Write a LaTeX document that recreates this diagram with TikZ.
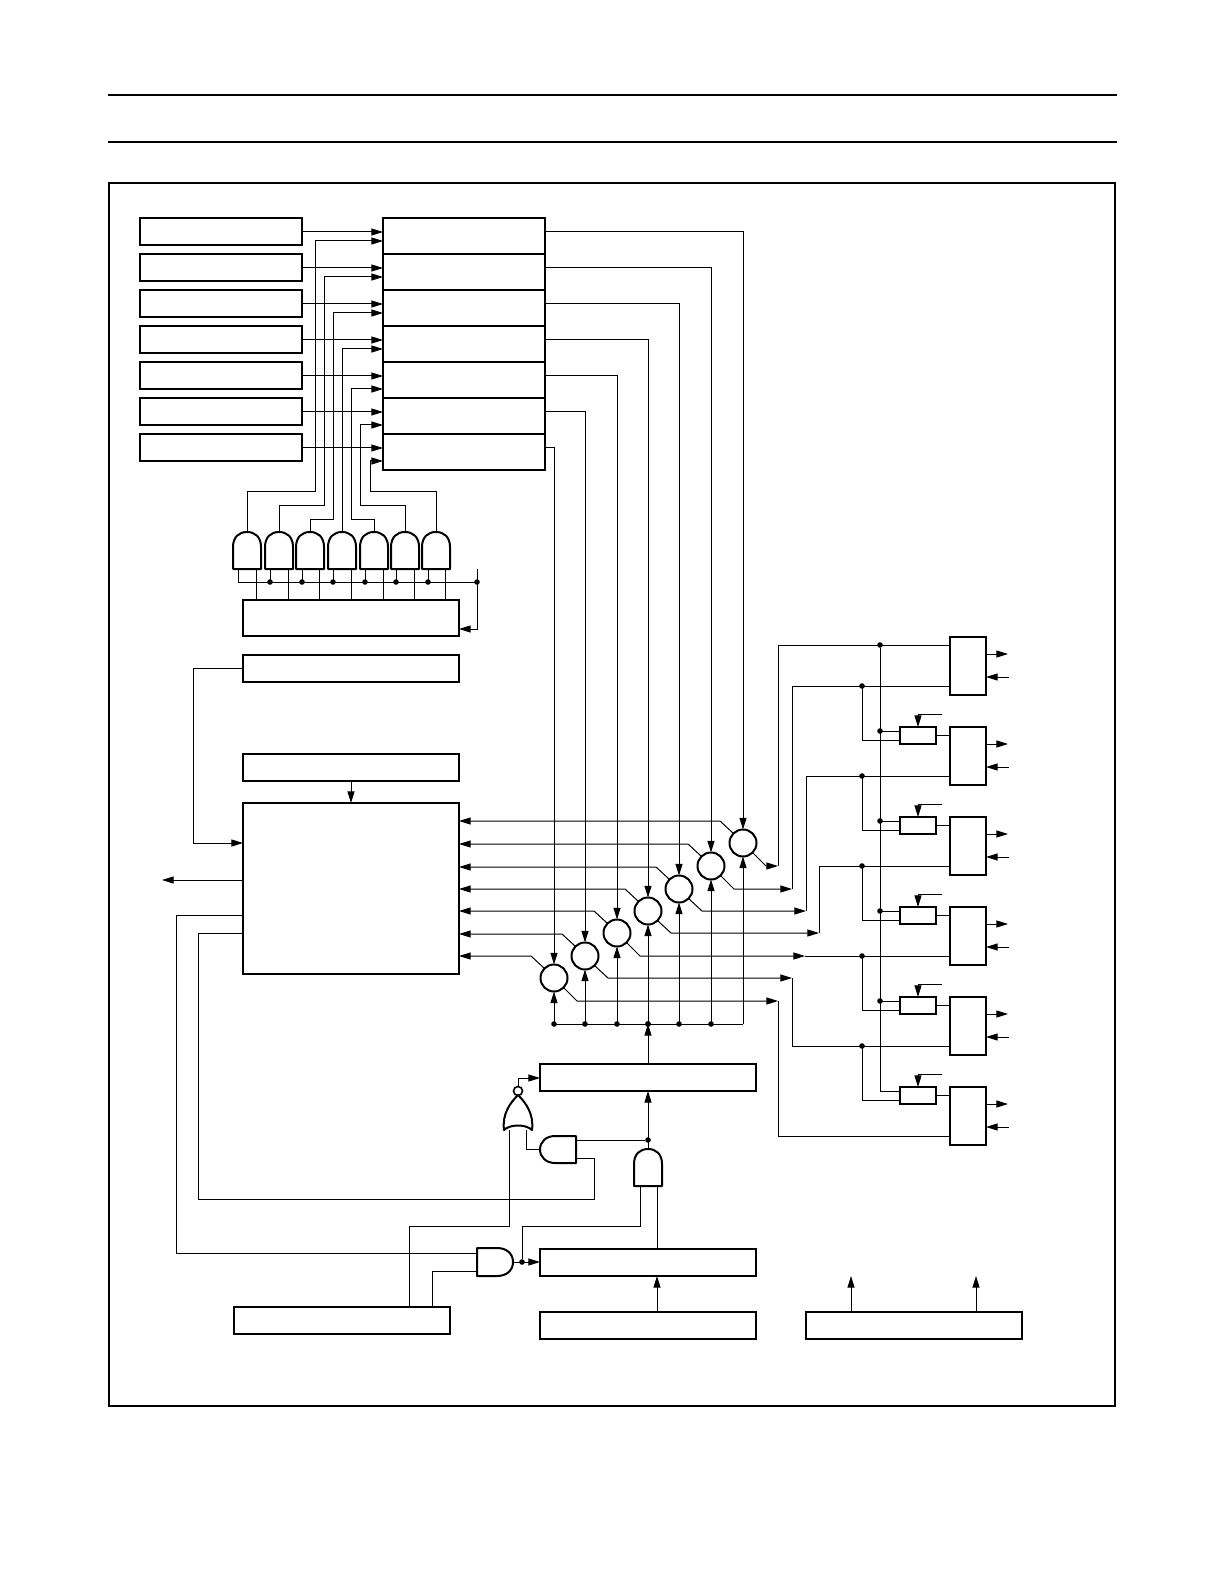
\documentclass[tikz,border=0pt]{standalone}
\usetikzlibrary{arrows.meta,calc}
\tikzset{
  wire/.style={line width=0.5pt,line join=miter},
  arr/.style={wire,-{Triangle[length=5.8pt,width=3.5pt]}},
  heavy/.style={line width=1pt,line join=miter},
  blockst/.style={draw,line width=1pt,inner sep=0pt,outer sep=0pt},
  mixer/.style={draw,circle,line width=1pt,minimum size=13.5pt,inner sep=0pt,outer sep=0pt},
  bubble/.style={draw,circle,line width=0.8pt,minimum size=4.5pt,inner sep=0pt,outer sep=0pt},
  junction/.style={circle,fill=black,minimum size=2.8pt,inner sep=0pt,outer sep=0pt},
  gatest/.style={line width=1pt,line join=round}
}
\newcommand{\mybox}[5]{\node[blockst,minimum width={(#4-#2)*0.5pt},minimum height={(#5-#3)*0.5pt}] (#1) at ({(#2+#4)/2},{(#3+#5)/2}) {};}
\newcommand{\andup}[4]{%
  \draw[gatest] ({#2-14},#4) -- ({#2-14},{#3+15}) .. controls ({#2-14},{#3+5}) and ({#2-8},#3) .. (#2,#3)
    .. controls ({#2+8},#3) and ({#2+14},{#3+5}) .. ({#2+14},{#3+15}) -- ({#2+14},#4) -- cycle;
  \coordinate (#1) at (#2,#3);}
\begin{document}
\begin{tikzpicture}[x=0.5pt,y=-0.5pt]
\useasboundingbox (0,0) rectangle (1224,1582);
\fill[white] (0,0) rectangle (1224,1582);
% page rules and frame
\draw[heavy] (108,95) -- (1117,95);
\draw[heavy] (108,142) -- (1117,142);
\draw[heavy] (109,183) rectangle (1115,1406);

% input boxes and registers
\foreach \i in {1,...,7}{
  \pgfmathsetmacro{\ya}{218.5+36*(\i-1)}
  \pgfmathsetmacro{\yb}{245.5+36*(\i-1)}
  \pgfmathsetmacro{\yc}{218+36*(\i-1)}
  \pgfmathsetmacro{\yd}{254+36*(\i-1)}
  \mybox{L\i}{140}{\ya}{302}{\yb}
  \mybox{R\i}{383}{\yc}{545}{\yd}
  \draw[arr] (L\i.east) -- (L\i.east -| R\i.west);
}
\foreach \i/\y in {1/241,2/277,3/313,4/349,5/389,6/425,7/461}{
  \coordinate (Rb\i) at (383,\y);
}

% and gates row
\foreach \i/\cx in {1/247,2/279,3/310,4/342,5/374,6/405,7/436}{
  \andup{G\i}{\cx}{532}{569}
}
\mybox{Sh}{243}{600}{459}{636}
\foreach \cx in {247,279,310,342,374,405,436}{
  \coordinate (top\cx) at ({\cx+9},569);
  \draw[wire] (top\cx) -- (top\cx |- Sh.north);
}
\draw[wire] (238,569) |- (477,582);
\draw[arr] (477,569) |- ($(Sh.east)+(0,11)$);
\foreach \i/\cx in {1/270,2/302,3/333,4/365,5/396,6/428}{
  \draw[wire] (\cx,569) -- (\cx,582);
  \node[junction] (dg\i) at (\cx,582) {};
}
\node[junction] (dg7) at (477,582) {};
\draw[arr] (G1) |- (315,492) |- (Rb1);
\draw[arr] (G2) |- (324,506) |- (Rb2);
\draw[arr] (G3) |- (333,520) |- (Rb3);
\draw[arr] (G4) |- (Rb4);
\draw[arr] (G5) |- (351,520) |- (Rb5);
\draw[arr] (G6) |- (360,506) |- (Rb6);
\draw[arr] (G7) |- (370,492) |- (Rb7);

% middle left boxes
\mybox{Ba}{243}{655}{459}{682}
\mybox{Bb}{243}{754}{459}{781}
\mybox{Big}{243}{803}{459}{974}
\draw[arr] (Bb.south) -- (Big.north);
\coordinate (bigin) at (243,843);
\draw[arr] (Ba.west) -| (193,843) -- (bigin);
\coordinate (bigout) at (243,880);
\coordinate (ext) at (162,880);
\draw[arr] (bigout) -- (ext);

% mixers
\foreach \i/\cx/\cy in {1/743/843,2/711/866,3/679/889,4/648/911,5/617/933,6/585/956,7/554/978}{
  \node[mixer] (C\i) at (\cx,\cy) {};
  \coordinate (w\i) at ({\cx-23},{\cy-22});
  \draw[arr] (C\i.135) -- (w\i) -- (w\i -| Big.east);
  \draw[arr] (R\i.east |- L\i.east) -| (C\i.north);
  \coordinate (bus\i) at (\cx,1024);
  \draw[arr] (bus\i) -- (C\i.south);
}
\draw[wire] (bus7) -- (bus1);
\foreach \i in {2,...,7}{\node[junction] (db\i) at (bus\i) {};}

% ports
\foreach \k in {1,...,6}{
  \pgfmathsetmacro{\ya}{637+90*(\k-1)}
  \pgfmathsetmacro{\yb}{695+90*(\k-1)}
  \pgfmathsetmacro{\yo}{654+90*(\k-1)}
  \pgfmathsetmacro{\yi}{677+90*(\k-1)}
  \pgfmathsetmacro{\ylow}{686+90*(\k-1)}
  \mybox{P\k}{950}{\ya}{986}{\yb}
  \coordinate (Po\k) at (1008,\yo);
  \coordinate (Pi\k) at (1009,\yi);
  \coordinate (Pl\k) at (950,\ylow);
  \draw[arr] (Po\k -| P\k.east) -- (Po\k);
  \draw[arr] (Pi\k) -- (Pi\k -| P\k.east);
}
\foreach \k in {1,...,5}{
  \node[junction] (dl\k) at (862,{686+90*(\k-1)}) {};
}
\coordinate (Pu1) at (950,645);
\node[junction] (du0) at (880,645) {};

% mixer outputs to ports
\foreach \i/\cx/\oy/\tx in {1/743/866/778,2/711/889/792,3/679/911/806,4/648/933/819,5/617/956/805,6/585/978/792,7/554/1001/778}{
  \coordinate (o\i) at ({\cx+23},\oy);
  \coordinate (t\i) at (\tx,\oy);
  \draw[arr] (C\i.-45) -- (o\i) -- (t\i);
}
\draw[wire] (t1) |- (Pu1);
\draw[wire] (t2) |- (Pl1);
\draw[wire] (t3) |- (Pl2);
\draw[wire] (t4) |- (Pl3);
\draw[wire] (t5) -- (Pl4);
\draw[wire] (t6) |- (Pl5);
\draw[wire] (t7) |- (Pl6);

% small blocks in front of ports
\foreach \k/\p in {1/2,2/3,3/4,4/5,5/6}{
  \pgfmathsetmacro{\ya}{727+90*(\k-1)}
  \pgfmathsetmacro{\yb}{744+90*(\k-1)}
  \pgfmathsetmacro{\yu}{731+90*(\k-1)}
  \pgfmathsetmacro{\yl}{740+90*(\k-1)}
  \pgfmathsetmacro{\yc}{714+90*(\k-1)}
  \pgfmathsetmacro{\yd}{686+90*(\k-1)}
  \mybox{S\k}{900}{\ya}{936}{\yb}
  \draw[wire] (S\k.east) -- (S\k.east -| P\p.west);
  \coordinate (ctl\k) at (942,\yc);
  \draw[arr] (ctl\k) -| (S\k.north);
  \coordinate (su\k) at (900,\yu);
  \coordinate (sl\k) at (900,\yl);
  \draw[wire] (880,\yu) -- (su\k);
  \draw[wire] (862,\yd) |- (sl\k);
}
\draw[wire] (du0) -- (880,1091);
\foreach \k in {1,...,4}{\node[junction] (ds\k) at (880,{731+90*(\k-1)}) {};}

% bottom blocks
\mybox{Ca}{540}{1064}{756}{1091}
\mybox{Cb}{540}{1249}{756}{1276}
\mybox{Cc}{540}{1312}{756}{1339}
\mybox{Cd}{234}{1307}{450}{1334}
\mybox{Ce}{806}{1312}{1022}{1339}
\coordinate (xa) at (657,0);
\draw[arr] (Ca.north) -- (Ca.north |- bus4);
\node[junction] (db4b) at (bus4) {};
\draw[arr] (xa |- Cc.north) -- (xa |- Cb.south);
\coordinate (ea) at (851,1276);
\coordinate (eb) at (976,1276);
\draw[arr] (ea |- Ce.north) -- (ea);
\draw[arr] (eb |- Ce.north) -- (eb);

% nor gate
\draw[gatest] (504,1130) .. controls (502,1114) and (510,1103) .. (518,1095)
  .. controls (526,1103) and (534,1114) .. (532,1130)
  .. controls (526,1124) and (510,1124) .. (504,1130) -- cycle;
\node[bubble] (NB) at (518,1091) {};
\coordinate (cain) at (540,1078);
\draw[arr] (NB.north) |- (cain);

% and gate pointing left
\draw[gatest] (576,1136) -- (555,1136) .. controls (546,1136) and (540,1142) .. (540,1149.5)
  .. controls (540,1157) and (546,1163) .. (555,1163) -- (576,1163) -- cycle;
\coordinate (Al) at (540,1149);
% and gate pointing up
\andup{Au}{648}{1149}{1186}
% and gate pointing right
\draw[gatest] (477,1248) -- (497,1248) .. controls (507,1248) and (513,1254) .. (513,1262)
  .. controls (513,1270) and (507,1276) .. (497,1276) -- (477,1276) -- cycle;
\coordinate (Ar) at (513,1262);
\node[junction] (dr) at (522,1262) {};
\draw[arr] (Ar) -- (Ar -| Cb.west);

\draw[arr] (Au) -- (Au |- Ca.south);
\node[junction] (dq) at (648,1140) {};
\draw[wire] (576,1140) -- (dq);
\draw[wire] (576,1158) -| (594,1199) -| (198,933) -- (243,933);
\draw[wire] (526,1130) |- (Al);
\draw[wire] (509,1130) |- (409,1226) -- (409,1307);
\draw[wire] (640,1186) |- (522,1226) -- (dr);
\draw[wire] (657,1186) -- (657,1249);
\draw[wire] (477,1253) -| (176,915) -- (243,915);
\draw[wire] (477,1271) -| (432,1307);
\end{tikzpicture}
\end{document}
